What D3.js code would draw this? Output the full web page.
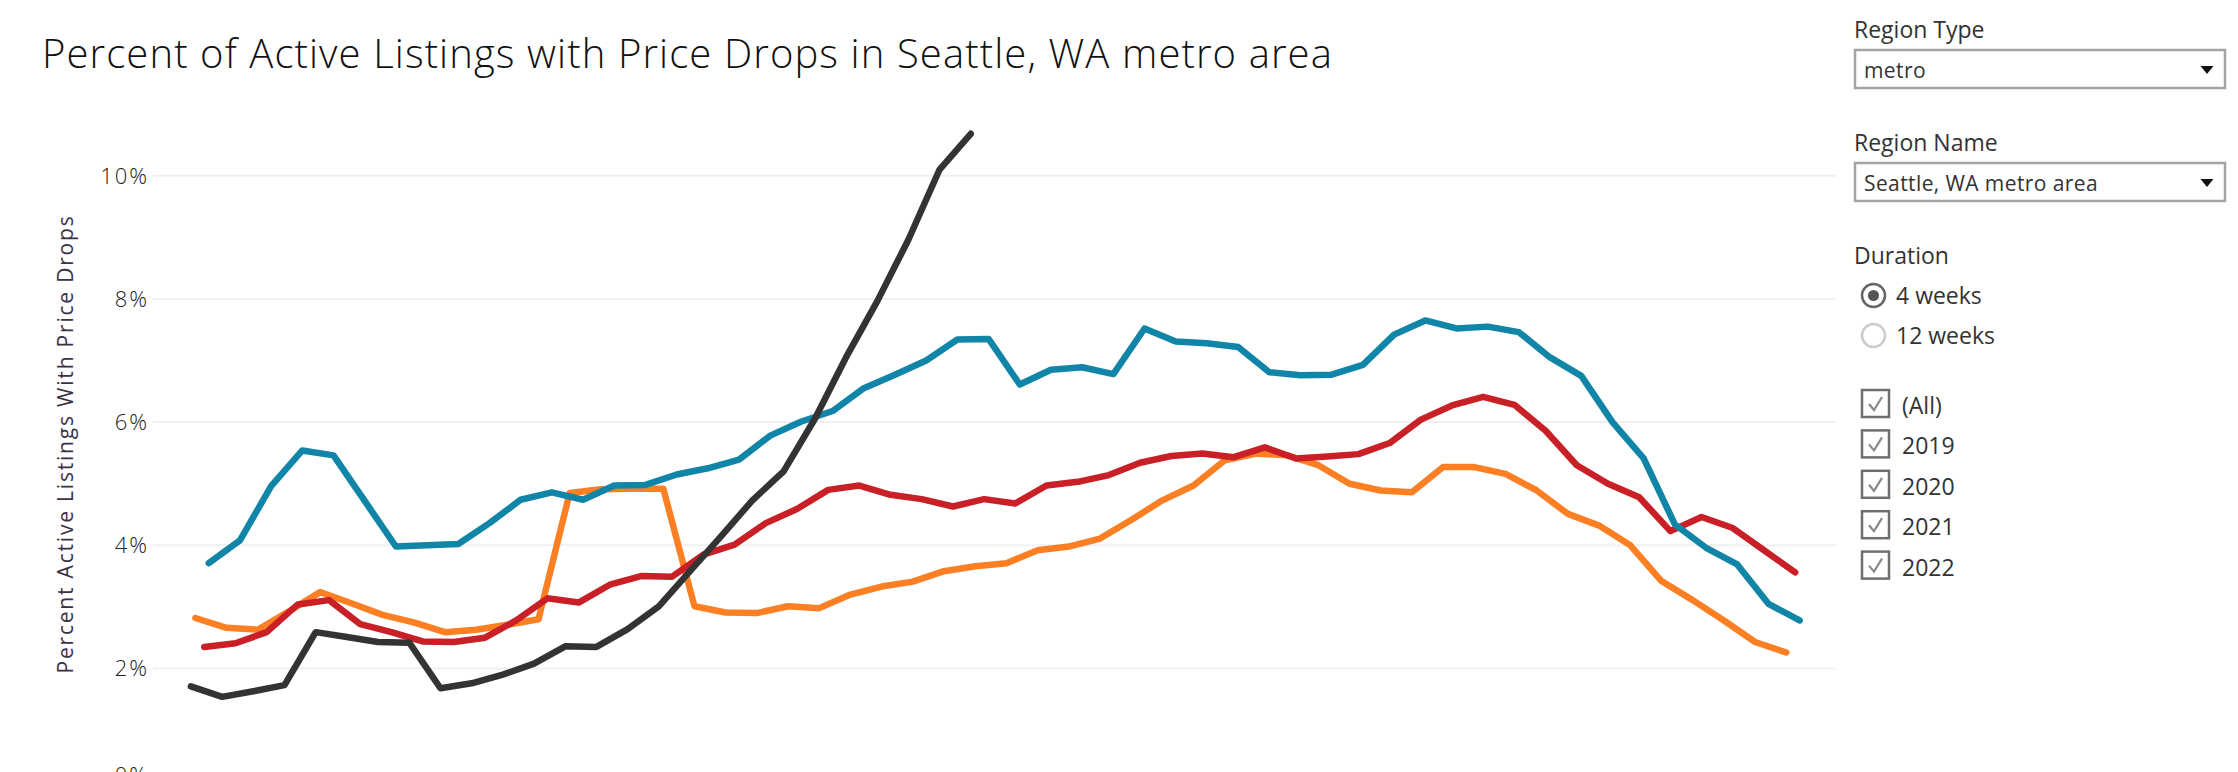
<!DOCTYPE html>
<html>
<head>
<meta charset="utf-8">
<script src="https://cdn.jsdelivr.net/npm/d3@7/dist/d3.min.js"></script>
<style>
    body { margin: 0; background: #ffffff; }
    svg text { font-family: "Open Sans", "Noto Sans", sans-serif; }
</style>
</head>
<body>
<svg id="chart" width="2238" height="772"></svg>
<script>
// one line per year, weekly points (4 week duration)
var years = ["2019", "2020", "2021", "2022"];
var firstWeek = ["2019-01-06", "2020-01-05", "2021-01-03", "2022-01-02"];
var lineColors = ["#1085a8", "#c91f26", "#fd7f23", "#333333"];
var drawOrder = ["2021", "2020", "2019", "2022"];

var pct2019 = [3.71, 4.08, 4.96, 5.54, 5.46, 4.72, 3.98, 4.00, 4.02, 4.36, 4.74, 4.86, 4.74,
    4.97, 4.98, 5.15, 5.25, 5.39, 5.78, 6.01, 6.18, 6.55, 6.77, 7.00, 7.34, 7.35,
    6.61, 6.85, 6.89, 6.78, 7.52, 7.31, 7.28, 7.22, 6.81, 6.76, 6.77, 6.93, 7.42,
    7.65, 7.52, 7.55, 7.46, 7.05, 6.75, 6.00, 5.41, 4.34, 3.96, 3.69, 3.05, 2.78];
var pct2020 = [2.35, 2.41, 2.59, 3.04, 3.11, 2.72, 2.59, 2.44, 2.43, 2.50, 2.78, 3.14, 3.07,
    3.36, 3.50, 3.49, 3.85, 4.01, 4.36, 4.59, 4.90, 4.97, 4.82, 4.75, 4.63, 4.75,
    4.68, 4.97, 5.03, 5.14, 5.34, 5.45, 5.49, 5.43, 5.59, 5.41, 5.44, 5.48, 5.66,
    6.04, 6.27, 6.41, 6.28, 5.86, 5.30, 5.00, 4.78, 4.23, 4.46, 4.28, 3.92, 3.56];
var pct2021 = [2.82, 2.66, 2.63, 2.93, 3.24, 3.06, 2.87, 2.75, 2.59, 2.63, 2.71, 2.80, 4.85,
    4.91, 4.92, 4.92, 3.01, 2.91, 2.90, 3.01, 2.98, 3.20, 3.33, 3.41, 3.58, 3.66,
    3.71, 3.92, 3.98, 4.11, 4.41, 4.73, 4.97, 5.38, 5.49, 5.46, 5.30, 5.00, 4.89,
    4.86, 5.27, 5.27, 5.16, 4.89, 4.51, 4.32, 4.00, 3.42, 3.11, 2.78, 2.43, 2.26];
var pct2022 = [1.71, 1.54, 1.63, 1.73, 2.59, 2.51, 2.43, 2.42, 1.68, 1.76, 1.90, 2.08, 2.36,
    2.35, 2.64, 3.01, 3.58, 4.15, 4.73, 5.20, 6.05, 7.05, 7.96, 8.96, 10.10, 10.68];
var yearValues = [pct2019, pct2020, pct2021, pct2022];

var yTicks = [0, 2, 4, 6, 8, 10];

var chartTitle = "Percent of Active Listings with Price Drops in Seattle, WA metro area";
var yTitle = "Percent Active Listings With Price Drops";
var regionType = "metro";
var regionName = "Seattle, WA metro area";
var durations = ["4 weeks", "12 weeks"];
var yearFilter = ["(All)", "2019", "2020", "2021", "2022"];

var svg = d3.select("#chart");
svg.append("rect").attr("width", 2238).attr("height", 772).attr("fill", "#ffffff");

var parseDay = d3.timeParse("%Y-%m-%d");
function dayOfYear(d) {
    return d3.timeDay.count(d3.timeYear(d), d) + 1;
}

var x = d3.scaleLinear().domain([0, 366]).range([182, 1813]);
var y = d3.scaleLinear().domain([0, 10]).range([791.7, 175.7]);
var plotLeft = 153, plotRight = 1836;

// gridlines
svg.append("g").selectAll("line")
    .data(yTicks)
    .enter().append("line")
    .attr("x1", plotLeft)
    .attr("x2", plotRight)
    .attr("y1", function (d) { return y(d); })
    .attr("y2", function (d) { return y(d); })
    .attr("stroke", "#f0f0f0")
    .attr("stroke-width", 2);

// y axis labels (tableau pushes the bottom one inside the pane)
svg.append("g").selectAll("text")
    .data(yTicks)
    .enter().append("text")
    .attr("x", 149)
    .attr("y", function (d) { return Math.min(y(d), 775); })
    .attr("dy", "0.36em")
    .attr("text-anchor", "end")
    .attr("font-size", 22)
    .attr("font-weight", 300)
    .attr("letter-spacing", "2px")
    .attr("fill", "#222222")
    .text(function (d) { return d + "%"; });

svg.append("text")
    .attr("transform", "translate(72.5,444) rotate(-90)")
    .attr("text-anchor", "middle")
    .attr("font-size", 21)
    .attr("letter-spacing", "1.8px")
    .attr("fill", "#3b3247")
    .text(yTitle);

// lines
var line = d3.line()
    .x(function (d) { return x(d.day); })
    .y(function (d) { return y(d.value); });

drawOrder.forEach(function (yr) {
    var i = years.indexOf(yr);
    var start = parseDay(firstWeek[i]);
    var pts = yearValues[i].map(function (v, k) {
        var dt = d3.timeDay.offset(start, 7 * k);
        return {day: dayOfYear(dt), value: v};
    });
    svg.append("path")
        .datum(pts)
        .attr("d", line)
        .attr("fill", "none")
        .attr("stroke", lineColors[i])
        .attr("stroke-width", 6.5)
        .attr("stroke-linejoin", "round")
        .attr("stroke-linecap", "round");
});

svg.append("text")
    .attr("x", 42)
    .attr("y", 67.5)
    .attr("font-size", 40)
    .attr("font-weight", 300)
    .attr("letter-spacing", "1.1px")
    .attr("fill", "#111111")
    .text(chartTitle);

// right side filter panel
var panel = svg.append("g");
var px = 1854;

function addDropdown(label, value, top) {
    panel.append("text")
        .attr("x", px).attr("y", top - 12)
        .attr("font-size", 23)
        .attr("fill", "#333333")
        .text(label);
    panel.append("rect")
        .attr("x", px + 1).attr("y", top)
        .attr("width", 370).attr("height", 38)
        .attr("fill", "#ffffff")
        .attr("stroke", "#a3a3a3")
        .attr("stroke-width", 2.5);
    panel.append("text")
        .attr("x", px + 10).attr("y", top + 28)
        .attr("font-size", 21)
        .attr("letter-spacing", "0.4px")
        .attr("fill", "#333333")
        .text(value);
    var tx = 2207, ty = top + 16;
    panel.append("path")
        .attr("d", "M" + (tx - 6.5) + "," + ty + "L" + (tx + 6.5) + "," + ty + "L" + tx + "," + (ty + 8) + "Z")
        .attr("fill", "#111111");
}
addDropdown("Region Type", regionType, 50);
addDropdown("Region Name", regionName, 163);

panel.append("text")
    .attr("x", px).attr("y", 264)
    .attr("font-size", 23)
    .attr("fill", "#333333")
    .text("Duration");

durations.forEach(function (d, i) {
    var cy = 295.5 + i * 40;
    panel.append("circle")
        .attr("cx", 1873.5).attr("cy", cy).attr("r", 11.5)
        .attr("fill", "#ffffff")
        .attr("stroke", i === 0 ? "#666666" : "#cccccc")
        .attr("stroke-width", 2.5);
    if (i === 0) {
        panel.append("circle")
            .attr("cx", 1873.5).attr("cy", cy).attr("r", 5.5)
            .attr("fill", "#555555");
    }
    panel.append("text")
        .attr("x", 1896).attr("y", cy + 8.5)
        .attr("font-size", 23)
        .attr("fill", "#333333")
        .text(d);
});

yearFilter.forEach(function (d, i) {
    var top = 390 + i * 40.4;
    panel.append("rect")
        .attr("x", 1862).attr("y", top)
        .attr("width", 27).attr("height", 27)
        .attr("fill", "#ffffff")
        .attr("stroke", "#6e6e6e")
        .attr("stroke-width", 2.5);
    panel.append("path")
        .attr("d", "M" + 1869 + "," + (top + 14) + "L" + 1874 + "," + (top + 20) + "L" + 1882 + "," + (top + 7))
        .attr("fill", "none")
        .attr("stroke", "#8a8a8a")
        .attr("stroke-width", 2.2);
    panel.append("text")
        .attr("x", 1902).attr("y", top + 24)
        .attr("font-size", 23)
        .attr("fill", "#333333")
        .text(d);
});
</script>
</body>
</html>
